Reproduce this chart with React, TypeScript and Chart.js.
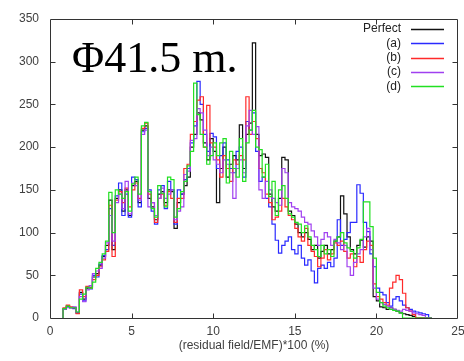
import React, { useEffect, useRef } from "react";
import { Chart, registerables } from "chart.js";

Chart.register(...registerables);

// Histogram bin left edges (bin width 0.2)
const BIN_WIDTH = 0.2;
const binStarts = [
  0.8, 1.0, 1.2, 1.4, 1.6, 1.8, 2.0, 2.2, 2.4, 2.6,
  2.8, 3.0, 3.2, 3.4, 3.6, 3.8, 4.0, 4.2, 4.4, 4.6,
  4.8, 5.0, 5.2, 5.4, 5.6, 5.8, 6.0, 6.2, 6.4, 6.6,
  6.8, 7.0, 7.2, 7.4, 7.6, 7.8, 8.0, 8.2, 8.4, 8.6,
  8.8, 9.0, 9.2, 9.4, 9.6, 9.8, 10.0, 10.2, 10.4, 10.6,
  10.8, 11.0, 11.2, 11.4, 11.6, 11.8, 12.0, 12.2, 12.4, 12.6,
  12.8, 13.0, 13.2, 13.4, 13.6, 13.8, 14.0, 14.2, 14.4, 14.6,
  14.8, 15.0, 15.2, 15.4, 15.6, 15.8, 16.0, 16.2, 16.4, 16.6,
  16.8, 17.0, 17.2, 17.4, 17.6, 17.8, 18.0, 18.2, 18.4, 18.6,
  18.8, 19.0, 19.2, 19.4, 19.6, 19.8, 20.0, 20.2, 20.4, 20.6,
  20.8, 21.0, 21.2, 21.4, 21.6, 21.8, 22.0, 22.2, 22.4, 22.6,
  22.8, 23.0, 23.2,
];

const perfect = [
  2, 10, 14, 12, 12, 6, 30, 22, 35, 36,
  48, 52, 62, 72, 85, 138, 80, 140, 150, 125,
  150, 120, 155, 160, 135, 220, 225, 140, 130, 115,
  145, 148, 135, 150, 148, 105, 135, 145, 155, 165,
  200, 215, 240, 232, 205, 185, 210, 195, 135, 175,
  200, 165, 180, 190, 185, 226, 175, 215, 228, 322,
  215, 190, 192, 188, 145, 130, 125, 140, 188, 185,
  125, 120, 110, 100, 95, 100, 92, 80, 85, 70,
  78, 85, 75, 80, 90, 95, 143, 122, 95, 80,
  75, 85, 91, 83, 95, 90, 25, 20, 13, 12,
  10, 12, 10, 8, 6, 5, 4, 3, 2, 0,
  0, 0, 0,
];

const seriesA = [
  2, 11, 13, 12, 11, 6, 28, 20, 36, 34,
  50, 48, 63, 73, 80, 128, 85, 143, 158, 120,
  145, 118, 165, 162, 130, 218, 222, 150, 125, 110,
  150, 155, 128, 160, 150, 110, 150, 145, 162, 175,
  205, 225, 277, 250, 215, 195, 216, 212, 175, 190,
  205, 185, 175, 170, 195, 200, 165, 230, 220, 240,
  195, 160, 165, 140, 130, 110, 91, 76, 85, 90,
  95, 80, 75, 85, 70, 62, 68, 55, 41, 58,
  62, 58, 65, 60, 70, 115, 85, 92, 100, 112,
  112, 156, 146, 112, 101, 75, 60, 35, 30, 27,
  18, 14, 22, 25, 20, 15, 12, 10, 8, 7,
  6, 5, 4,
];

const seriesB = [
  2, 12, 15, 13, 12, 5, 33, 25, 37, 35,
  45, 50, 60, 68, 78, 132, 72, 138, 148, 135,
  152, 130, 150, 158, 140, 222, 228, 145, 135, 112,
  140, 145, 132, 148, 140, 112, 140, 140, 175, 180,
  215, 230, 255, 259, 200, 249, 205, 200, 185, 165,
  190, 175, 160, 185, 180, 190, 185, 259, 215, 230,
  210, 175, 170, 145, 135, 115, 118, 125, 140, 130,
  120, 115, 105, 95, 90, 105, 85, 78, 72, 60,
  70, 80, 68, 75, 88, 85, 90, 78, 70, 75,
  60, 72, 65, 80, 90, 85, 40, 25, 22, 18,
  15, 35, 42, 50, 45, 29, 12, 8, 4, 0,
  0, 0, 0,
];

const seriesC = [
  2, 10, 12, 12, 13, 7, 25, 19, 33, 38,
  52, 55, 58, 70, 88, 120, 90, 135, 145, 128,
  160, 122, 158, 155, 138, 215, 220, 130, 135, 120,
  140, 152, 140, 145, 150, 115, 125, 130, 168, 172,
  208, 210, 245, 240, 220, 190, 200, 185, 180, 170,
  185, 180, 170, 140, 175, 185, 170, 225, 243, 215,
  224, 150, 140, 160, 150, 140, 135, 132, 175, 170,
  135, 130, 128, 125, 118, 112, 110, 102, 95, 85,
  92, 100, 95, 85, 92, 88, 80, 85, 60, 50,
  65, 75, 80, 95, 105, 80, 35, 22, 18, 16,
  14, 12, 10, 9, 8, 10, 9, 8, 6, 5,
  4, 3, 0,
];

const seriesD = [
  2, 11, 14, 12, 12, 7, 22, 28, 36, 35,
  42, 58, 65, 75, 90, 147, 100, 150, 145, 140,
  148, 125, 157, 165, 145, 225, 229, 148, 128, 118,
  155, 146, 130, 165, 162, 118, 128, 148, 160, 178,
  195, 275, 238, 215, 200, 180, 190, 205, 190, 205,
  210, 158, 195, 175, 165, 210, 160, 205, 220, 243,
  200, 197, 165, 180, 142, 160, 120, 150, 155, 140,
  122, 118, 112, 110, 100, 108, 95, 85, 80, 72,
  85, 75, 80, 72, 90, 95, 100, 88, 82, 78,
  70, 82, 92, 136, 136, 107, 70, 30, 18, 14,
  12, 10, 9, 8, 6, 0, 0, 0, 0, 0,
  0, 0, 0,
];

const seriesLabels = ["Perfect", "(a)", "(b)", "(c)", "(d)"];
const seriesColors = ["#111111", "#2a2aff", "#ff2a2a", "#a040f0", "#22e022"];
const seriesValues = [perfect, seriesA, seriesB, seriesC, seriesD];

const xTicks = [0, 5, 10, 15, 20, 25];
const yTicks = [0, 50, 100, 150, 200, 250, 300, 350];
const TITLE_TEXT = "Φ41.5 m.";
const X_AXIS_TITLE = "(residual field/EMF)*100 (%)";

const SANS = '"Liberation Sans", Arial, sans-serif';
const TEXT_COLOR = "#404040";

const framePlugin = {
  id: "gnuplotFrame",
  afterDraw(chart: any) {
    const { ctx, chartArea, scales } = chart;
    const { left, right, top, bottom } = chartArea;
    const L = Math.round(left) + 0.5;
    const R = Math.round(right) - 0.5;
    const T = Math.round(top) + 0.5;
    const B = Math.round(bottom) + 0.5;
    ctx.save();
    ctx.strokeStyle = "#333333";
    ctx.lineWidth = 1;
    ctx.beginPath();
    ctx.rect(L, T, R - L, B - T);
    ctx.stroke();
    const tl = 5;
    ctx.beginPath();
    xTicks.slice(1, -1).forEach((v) => {
      const px = Math.round(scales.x.getPixelForValue(v)) + 0.5;
      ctx.moveTo(px, B);
      ctx.lineTo(px, B - tl);
      ctx.moveTo(px, T);
      ctx.lineTo(px, T + tl);
    });
    yTicks.slice(1, -1).forEach((v) => {
      const py = Math.round(scales.y.getPixelForValue(v)) + 0.5;
      ctx.moveTo(L, py);
      ctx.lineTo(L + tl, py);
      ctx.moveTo(R, py);
      ctx.lineTo(R - tl, py);
    });
    ctx.stroke();

    // Big label inside the plot
    ctx.fillStyle = "#000000";
    ctx.font = '44px "Liberation Serif", "Times New Roman", serif';
    ctx.textAlign = "left";
    ctx.textBaseline = "alphabetic";
    ctx.fillText(TITLE_TEXT, 72, 72);

    // gnuplot-style key
    ctx.font = `12px ${SANS}`;
    ctx.textAlign = "right";
    ctx.textBaseline = "middle";
    seriesLabels.forEach((lab, i) => {
      const y = 29 + i * 14.3;
      ctx.fillStyle = "#222222";
      ctx.fillText(lab, 401, y);
      ctx.strokeStyle = seriesColors[i];
      ctx.lineWidth = 1.3;
      ctx.beginPath();
      const yy = Math.round(y) + 0.5;
      ctx.moveTo(411, yy);
      ctx.lineTo(444, yy);
      ctx.stroke();
    });
    ctx.restore();
  },
};

function App() {
  const ref = useRef<HTMLCanvasElement | null>(null);

  useEffect(() => {
    document.body.style.margin = "0";
    const canvas = ref.current;
    if (!canvas) return;
    const lastEdge = binStarts[binStarts.length - 1] + BIN_WIDTH;
    const toSteps = (vals: number[]) => [
      { x: binStarts[0], y: 0 },
      ...binStarts.map((b, i) => ({ x: b, y: vals[i] })),
      { x: lastEdge, y: 0 },
    ];
    const chart = new Chart(canvas, {
      type: "line",
      data: {
        datasets: seriesLabels.map((label, i) => ({
          label,
          data: toSteps(seriesValues[i]),
          borderColor: seriesColors[i],
          backgroundColor: seriesColors[i],
          borderWidth: 1.2,
          pointRadius: 0,
          stepped: "after" as const,
          fill: false,
          order: seriesLabels.length - i,
        })),
      },
      options: {
        animation: false,
        responsive: false,
        maintainAspectRatio: false,
        layout: { padding: { top: 19, right: 6, left: 0, bottom: 0 } },
        plugins: {
          legend: { display: false },
          tooltip: { enabled: false },
        },
        scales: {
          x: {
            type: "linear",
            min: 0,
            max: 25,
            ticks: {
              stepSize: 5,
              padding: 6,
              maxRotation: 0,
              font: { family: SANS, size: 12 },
              color: TEXT_COLOR,
            },
            grid: { display: false, drawTicks: false },
            border: { display: false },
            title: {
              display: true,
              text: X_AXIS_TITLE,
              font: { family: SANS, size: 12 },
              color: TEXT_COLOR,
              padding: { top: 0, bottom: 8 },
            },
            afterFit: (s: any) => {
              s.height = 43;
              s.paddingLeft = 0;
              s.paddingRight = 0;
            },
          },
          y: {
            min: 0,
            max: 350,
            ticks: {
              stepSize: 50,
              padding: 11,
              font: { family: SANS, size: 12 },
              color: TEXT_COLOR,
            },
            grid: { display: false, drawTicks: false },
            border: { display: false },
            afterFit: (s: any) => {
              s.width = 50;
              s.paddingTop = 0;
              s.paddingBottom = 0;
            },
          },
        },
      },
      plugins: [framePlugin],
    } as any);
    return () => chart.destroy();
  }, []);

  return (
    <div style={{ width: 464, height: 361 }}>
      <canvas ref={ref} width={464} height={361} style={{ display: "block" }} />
    </div>
  );
}

export default App;
